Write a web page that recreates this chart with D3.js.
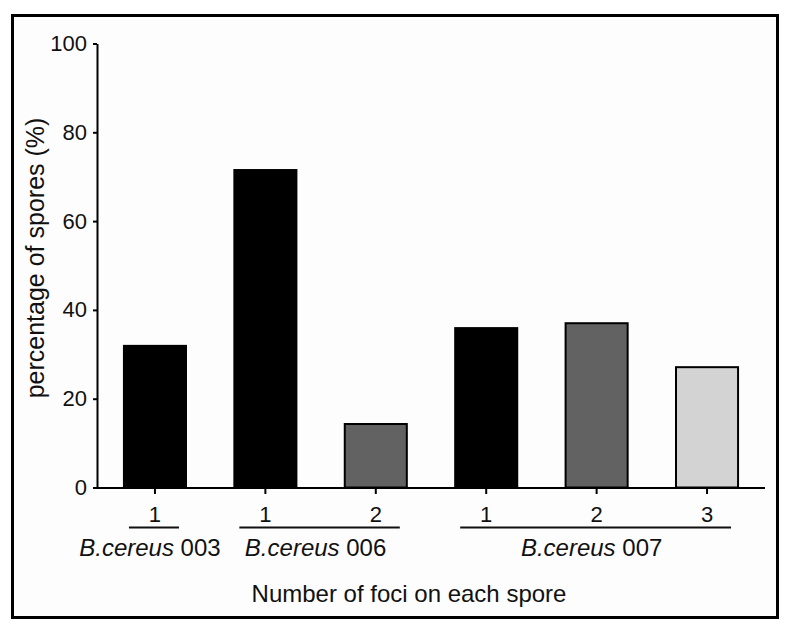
<!DOCTYPE html>
<html>
<head>
	<script src="https://d3js.org/d3.v7.min.js"></script>
	<title>Foci per spore</title>
	<style>
		body { margin: 0; background: #fff; }
		text { font-family: "Liberation Sans", Arial, sans-serif; fill: #111; }
	</style>
</head>
<body>
	<svg id="chart" width="792" height="630"></svg>
	<script>
		// data
		var keys    = ["003-1", "006-1", "006-2", "007-1", "007-2", "007-3"];
		var foci    = ["1", "1", "2", "1", "2", "3"];
		var strain  = ["003", "006", "006", "007", "007", "007"];
		var values  = [31.9, 71.5, 14.3, 35.9, 37.0, 27.1];
		var fills   = ["#000000", "#000000", "#626262", "#000000", "#626262", "#d3d3d3"];
		var strains = ["003", "006", "007"];
		var yTicks  = [0, 20, 40, 60, 80, 100];

		var svg = d3.select("#chart");

		// outer frame
		svg.append("rect")
			.attr("x", 12.5).attr("y", 15.5)
			.attr("width", 765).attr("height", 602)
			.attr("fill", "#fdfdfd")
			.attr("stroke", "#000")
			.attr("stroke-width", 3);

		var x = d3.scaleBand().domain(keys).range([97, 765])
			.paddingInner(0.438).paddingOuter(0.244);
		var y = d3.scaleLinear().domain([0, 100]).range([487.5, 43.5]);

		// bars
		svg.selectAll("rect.bar").data(keys)
			.enter().append("rect")
			.attr("class", "bar")
			.attr("x", d => x(d))
			.attr("width", x.bandwidth())
			.attr("y", (d, i) => y(values[i]))
			.attr("height", (d, i) => y(0) - y(values[i]))
			.attr("fill", (d, i) => fills[i])
			.attr("stroke", "#000")
			.attr("stroke-width", 2);

		// y axis
		var yAxis = svg.append("g")
			.attr("transform", "translate(97,0)")
			.call(d3.axisLeft(y).tickValues(yTicks).tickSize(4).tickPadding(6).tickSizeOuter(0));
		yAxis.select(".domain").attr("stroke-width", 2);
		yAxis.selectAll(".tick line").attr("stroke-width", 2);
		yAxis.selectAll("text").attr("font-size", 22).attr("fill", "#111")
			.attr("font-family", "Liberation Sans, Arial, sans-serif");

		// x axis
		var xAxis = svg.append("g")
			.attr("transform", "translate(0,488)")
			.call(d3.axisBottom(x).tickSize(6).tickPadding(12).tickSizeOuter(0)
				.tickFormat((d, i) => foci[i]));
		xAxis.select(".domain").attr("d", "M94,0H765").attr("stroke-width", 2);
		xAxis.selectAll(".tick line").attr("stroke-width", 2);
		xAxis.selectAll("text").attr("font-size", 22).attr("fill", "#111")
			.attr("font-family", "Liberation Sans, Arial, sans-serif");

		// strain groups: underline + label
		strains.forEach(function(s) {
			var members = keys.filter((k, i) => strain[i] === s);
			var x0 = x(members[0]) + 5;
			var x1 = x(members[members.length - 1]) + x.bandwidth() - 7;
			svg.append("line")
				.attr("x1", x0).attr("x2", x1)
				.attr("y1", 527.5).attr("y2", 527.5)
				.attr("stroke", "#111").attr("stroke-width", 2);
			var t = svg.append("text")
				.attr("x", (x0 + x1) / 2 - 4)
				.attr("y", 556)
				.attr("text-anchor", "middle")
				.attr("font-size", 24);
			t.append("tspan").attr("font-style", "italic").text("B.cereus");
			t.append("tspan").text(" " + s);
		});

		// axis titles
		svg.append("text")
			.attr("x", 409).attr("y", 602)
			.attr("text-anchor", "middle")
			.attr("font-size", 24)
			.text("Number of foci on each spore");

		svg.append("text")
			.attr("transform", "translate(44,258) rotate(-90)")
			.attr("text-anchor", "middle")
			.attr("font-size", 25)
			.text("percentage of spores (%)");
	</script>
</body>
</html>
